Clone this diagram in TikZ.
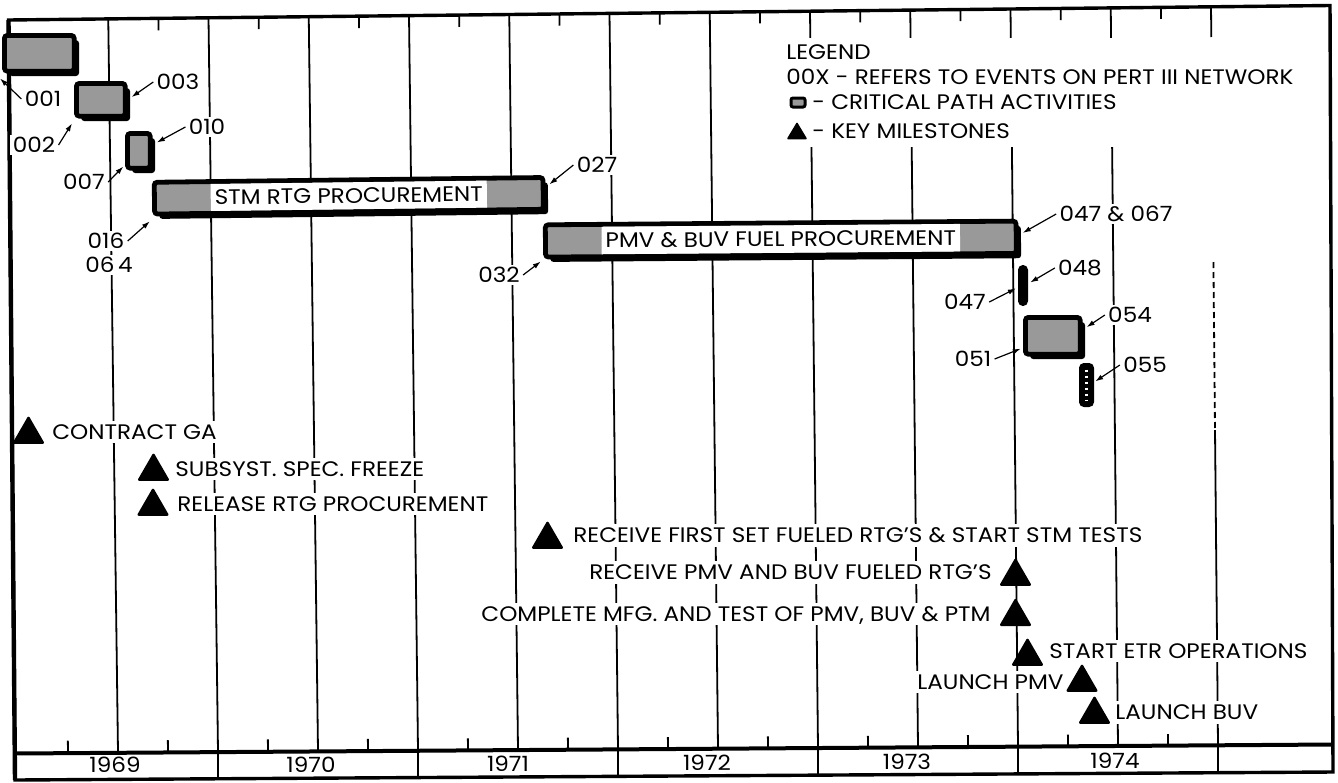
\documentclass[tikz,border=0pt]{standalone}
\usepackage{fontspec}
\setmainfont{Poppins}[FakeStretch=1.1]
\usetikzlibrary{arrows.meta,shapes.geometric,shadows}
\newcommand{\fsz}{\fontsize{10.5}{12}\selectfont}
\begin{document}
\begin{tikzpicture}[x=0.5pt,y=-0.5pt,
  gridl/.style={line width=0.9pt},
  framel/.style={line width=1.7pt,line join=miter},
  txt/.style={font=\fsz,inner sep=1pt,text height=7.3pt,text depth=0pt},
  lbl/.style={txt,fill=white,inner sep=1.5pt},
  ms/.style={txt,fill=white,inner sep=2pt},
  bartxt/.style={txt,fill=white,inner xsep=2pt},
  bar/.style={draw=black,fill=black!40,line width=2.4pt,rounded corners=1.5pt,inner sep=0pt,
    drop shadow={shadow xshift=2.4pt,shadow yshift=-2.4pt,fill=black,opacity=1}},
  blackbar/.style={fill=black,rounded corners=2.4pt,inner sep=0pt},
  arr/.style={line width=0.6pt,-{Latex[length=4pt,width=2.6pt]}},
  tri/.style={regular polygon,regular polygon sides=3,fill=black,draw=black,line width=1.2pt,
    line join=round,inner sep=0pt,minimum size=16.5pt,anchor=south}
]
\useasboundingbox (0,0) rectangle (1338,782);

% ---------- grid ----------
\foreach \q in {1,...,24}{
  \pgfmathsetmacro\gxb{18+50*\q}
  \pgfmathsetmacro\gln{10-0.125*\q}
  \pgfmathsetmacro\gxt{\gxb-\gln}
  \pgfmathsetmacro\gyt{20-(\gxt-7)*0.011338}
  \pgfmathsetmacro\gya{753-(\gxb-15)*0.00607}
  \pgfmathsetmacro\gdx{\gln*0.016438}
  \ifodd\q
    \ifnum\q>1 \draw[gridl] (\gxt,\gyt) -- ++(\gdx,12);\fi
    \draw[gridl] (\gxb,\gya) -- ++(-\gdx,-12);
  \else
    \ifnum\q<24 \draw[gridl] (\gxt,\gyt) -- (\gxb,\gya);\fi
  \fi
}
\draw[gridl] (1211,6.4) -- (1211.3,37);
\draw[gridl,dash pattern=on 3pt off 2pt] (1213.4,262) -- (1215,430);
\draw[gridl] (1215,430) -- (1218,745.7);
\fill[white] (778,38) rectangle (1300,147);

% ---------- frame, axis, year row ----------
\draw[framel] (8.5,20) -- (1330,5.5) -- (1333,772) -- (15,780) -- cycle;
\draw[line width=2.2pt] (8.5,20) -- (15,780);
\draw[line width=2pt] (15,753.5) -- (1333,744.5);
\foreach \q in {4,8,...,24}{
  \pgfmathsetmacro\gxb{18+50*\q}
  \pgfmathsetmacro\gya{753-(\gxb-15)*0.00607}
  \pgfmathsetmacro\gyb{780-(\gxb-15)*0.00607}
  \draw[gridl] (\gxb,\gya) -- (\gxb,\gyb);
}
\node[txt] (y69) at (115,765) {1969};
\node[txt] (y70) at (311,765) {1970};
\node[txt] (y71) at (508,764) {1971};
\node[txt] (y72) at (707,763) {1972};
\node[txt] (y73) at (907,762) {1973};
\node[txt] (y74) at (1115,761) {1974};

% ---------- bars ----------
\node[bar,minimum width=34.9pt,minimum height=17.9pt] (b001) at (39.3,53.3) {};
\node[bar,minimum width=24.4pt,minimum height=16.4pt] (b002) at (100.8,99.8) {};
\node[bar,minimum width=11.4pt,minimum height=17.4pt] (b007) at (138.8,150.8) {};
\node[bar,rotate=0.7,minimum width=194.4pt,minimum height=15.9pt] (bstm) at (348.8,195.8) {};
\node[bartxt,rotate=0.7,minimum height=13.5pt] (tstm) at (bstm.center) {STM RTG PROCUREMENT};
\node[bar,rotate=0.45,minimum width=235.4pt,minimum height=16.15pt] (bpmv) at (780.8,239.1) {};
\node[bartxt,rotate=0.45,minimum height=13.75pt] (tpmv) at (bpmv.center) {PMV \& BUV FUEL PROCUREMENT};
\node[blackbar,minimum width=5pt,minimum height=20.5pt] (b048) at (1023,285.5) {};
\node[bar,minimum width=27.4pt,minimum height=18.4pt] (b054) at (1052.8,335.8) {};
\node[blackbar,minimum width=7.5pt,minimum height=22pt] (b055) at (1086.5,385) {};
\draw[white,line width=1.3pt,dash pattern=on 1.3pt off 1.7pt] ([yshift=-3.5pt]b055.north) -- ([yshift=3.5pt]b055.south);

% ---------- event labels ----------
\node[lbl] (l001) at (43,99) {001};
\node[lbl] (l003) at (178,82) {003};
\node[lbl] (l002) at (34,145) {002};
\node[lbl] (l010) at (207,127) {010};
\node[lbl] (l007) at (84,182) {007};
\node[lbl] (l016) at (106,241) {016};
\node[lbl] (l064) at (109,265) {06\,4};
\node[lbl] (l027) at (597,165) {027};
\node[lbl] (l032) at (499,275) {032};
\node[lbl] (l047b) at (1116,214) {047 \& 067};
\node[lbl] (l048) at (1080,268) {048};
\node[lbl] (l047) at (965,302) {047};
\node[lbl] (l054) at (1130,315) {054};
\node[lbl] (l051) at (973,359) {051};
\node[lbl] (l055) at (1145,365) {055};

\draw[arr] (l001.west) -- ([xshift=-1pt,yshift=-2.4pt]b001.south west);
\draw[arr,shorten >=2.4pt] (l003.west) -- (b002.east);
\draw[arr] (l002.east) -- ([xshift=-1pt,yshift=-2.4pt]b002.south west);
\draw[arr,shorten >=2.4pt] (l010.west) -- ([yshift=3pt]b007.east);
\draw[arr,shorten >=1.2pt] (l007.east) -- ([yshift=-7pt]b007.west);
\draw[arr] (l016.east) -- ([xshift=-1.2pt,yshift=-2.4pt]bstm.south west);
\draw[arr,shorten >=2.4pt] (l027.west) -- ([yshift=3pt]bstm.east);
\draw[arr] (l032.east) -- ([xshift=-1.2pt,yshift=-1pt]bpmv.south west);
\draw[arr,shorten >=2.4pt] (l047b.west) -- ([yshift=1pt]bpmv.east);
\draw[arr,shorten >=1pt] (l048.west) -- ([yshift=1pt]b048.east);
\draw[arr,shorten >=1pt] (l047.east) -- ([yshift=-1pt]b048.west);
\draw[arr,shorten >=2.4pt] (l054.west) -- ([yshift=3pt]b054.east);
\draw[arr,shorten >=1.2pt] (l051.east) -- ([yshift=-6pt]b054.west);
\draw[arr,shorten >=0.5pt] (l055.west) -- ([yshift=1.5pt]b055.east);

% ---------- milestones ----------
\node[ms,anchor=west] (t1) at (48,432) {CONTRACT GA};
\node[ms,anchor=west] (t2) at (171,469) {SUBSYST. SPEC. FREEZE};
\node[ms,anchor=west] (t3) at (173,504) {RELEASE RTG PROCUREMENT};
\node[ms,anchor=west] (t4) at (569,535.5) {RECEIVE FIRST SET FUELED RTG'S \& START STM TESTS};
\node[ms,anchor=east] (t5) at (996,572.5) {RECEIVE PMV AND BUV FUELED RTG'S};
\node[ms,anchor=east] (t6) at (995,614) {COMPLETE MFG. AND TEST OF PMV, BUV \& PTM};
\node[ms,anchor=west] (t7) at (1045,651) {START ETR OPERATIONS};
\node[ms,anchor=east] (t8) at (1068,682) {LAUNCH PMV};
\node[ms,anchor=west] (t9) at (1111,712.5) {LAUNCH BUV};

\node[tri] (m1) at (28.5,443.8) {};
\node[tri] (m2) at (153.5,480.8) {};
\node[tri] (m3) at (153,515.8) {};
\node[tri] (m4) at (547.5,548.8) {};
\node[tri] (m5) at (1015.5,585.8) {};
\node[tri] (m6) at (1015.5,626) {};
\node[tri] (m7) at (1027.5,665.8) {};
\node[tri] (m8) at (1082,691.8) {};
\node[tri] (m9) at (1094.5,723.8) {};

% ---------- legend ----------
\node[txt,anchor=west] (lg1) at (784,52) {LEGEND};
\node[txt,anchor=west] (lg2) at (784,77) {00X - REFERS TO EVENTS ON PERT III NETWORK};
\node[draw=black,fill=black!40,line width=1.5pt,rounded corners=1pt,inner sep=0pt,minimum width=7pt,minimum height=4.5pt] (lgsq) at (798,102.5) {};
\node[txt,anchor=west] (lg3) at (810,102) {- CRITICAL PATH ACTIVITIES};
\fill[draw=black,line width=0.8pt,line join=round] (788,138.5) -- (797,123.5) -- (806,138.5) -- cycle;
\node[txt,anchor=west] (lg4) at (810,131) {- KEY MILESTONES};
\end{tikzpicture}
\end{document}
